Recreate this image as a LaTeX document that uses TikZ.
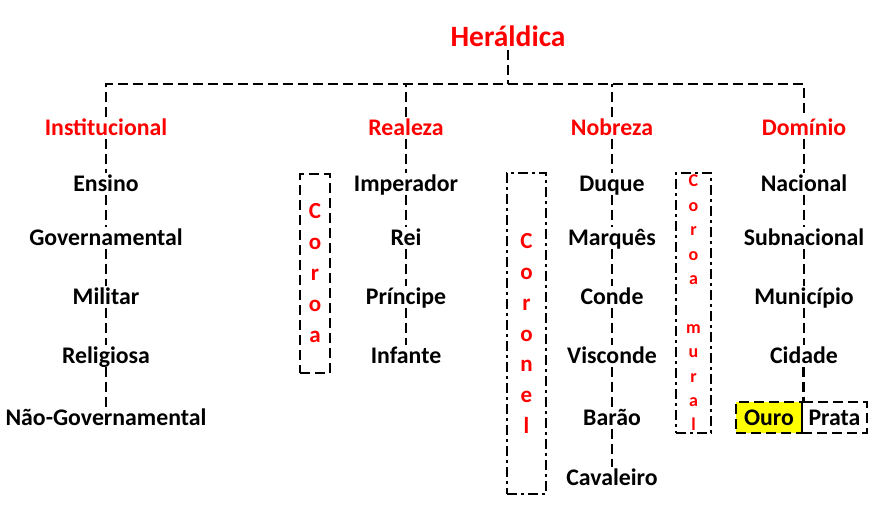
\documentclass[tikz,border=0pt]{standalone}
\usepackage{fontspec}
\setmainfont{Carlito}
\usetikzlibrary{positioning,calc}
\definecolor{titlered}{HTML}{FF0000}
\definecolor{goldfill}{HTML}{FFFF00}
\tikzset{
  dashline/.style={line width=2.6pt, dash pattern=on 10pt off 5pt},
  dotline/.style={line width=2.6pt, dash pattern=on 10pt off 4pt on 3pt off 4pt},
}
\begin{document}
\begin{tikzpicture}[x=1pt, y=-1pt,
  item/.style={font=\bfseries\fontsize{23.8}{27}\selectfont, inner sep=3pt,
               text height=15pt, text depth=0pt},
  cat/.style={item, text=titlered},
  title/.style={font=\bfseries\fontsize{29.5}{34}\selectfont, text=titlered,
                inner sep=3pt, text height=19pt, text depth=0pt},
  crownbox/.style={align=center, text=titlered, inner sep=0pt},
  metal/.style={item, draw, dashline, minimum height=31pt, inner sep=4pt},
]
\useasboundingbox (0,0) rectangle (883,525);

% --- Title and main branches ---
\node[title] (her) at (508,37) {Heráldica};
\coordinate (bus) at (508,84);

\node[cat] (inst) at (106,128) {Institucional};
\node[cat] (real) at (406,128) {Realeza};
\node[cat] (nobr) at (612,128) {Nobreza};
\node[cat] (domi) at (804,128) {Domínio};

\draw[dashline] (her.south) -- (bus);
\draw[dashline] (inst.north) -- (inst.north |- bus) -- (domi.north |- bus) -- (domi.north);
\draw[dashline] (real.north) -- (real.north |- bus);
\draw[dashline] (nobr.north) -- (nobr.north |- bus);

% --- Institucional ---
\node[item] (ens) at (106,184) {Ensino};
\node[item] (gov) at (106,238) {Governamental};
\node[item] (mil) at (106,297) {Militar};
\node[item] (rel) at (106,356) {Religiosa};
\node[item] (ngo) at (106,418) {Não-Governamental};

% --- Realeza ---
\node[item] (imp) at (406,184) {Imperador};
\node[item] (rei) at (406,238) {Rei};
\node[item] (pri) at (406,297) {Príncipe};
\node[item] (inf) at (406,356) {Infante};

% --- Nobreza ---
\node[item] (duq) at (612,184) {Duque};
\node[item] (mar) at (612,238) {Marquês};
\node[item] (con) at (612,297) {Conde};
\node[item] (vis) at (612,356) {Visconde};
\node[item] (bar) at (612,418) {Barão};
\node[item] (cav) at (612,478) {Cavaleiro};

% --- Domínio ---
\node[item] (nac) at (804,184) {Nacional};
\node[item] (sub) at (804,238) {Subnacional};
\node[item] (mun) at (804,297) {Município};
\node[item] (cid) at (804,356) {Cidade};
\node[metal, fill=goldfill, minimum width=66pt] (ouro) at (769,417.5) {Ouro};
\node[metal, minimum width=65pt] (prata) at (834.5,417.5) {Prata};

% chains inside each column
\foreach \a/\b in {inst/ens, ens/gov, gov/mil, mil/rel, rel/ngo,
                   real/imp, imp/rei, rei/pri, pri/inf,
                   nobr/duq, duq/mar, mar/con, con/vis, vis/bar, bar/cav,
                   domi/nac, nac/sub, sub/mun, mun/cid}
  \draw[dashline] (\a.south) -- (\b.north);
\draw[dashline] (cid.south -| ouro.east) -- (ouro.north east);

% --- Crown boxes ---
\node[crownbox, draw, dashline, minimum width=30pt, minimum height=199pt,
      font=\bfseries\fontsize{23}{31}\selectfont] (coroa) at (315,273.5)
      {C\\o\\r\\o\\a};
\node[crownbox, draw, dotline, minimum width=39pt, minimum height=321pt,
      font=\bfseries\fontsize{23}{30.7}\selectfont] (coronel) at (526.5,333.5)
      {C\\o\\r\\o\\n\\e\\l};
\node[crownbox, draw, dotline, minimum width=35pt, minimum height=260pt,
      font=\bfseries\fontsize{18}{24.4}\selectfont] (mural) at (693.5,303)
      {C\\o\\r\\o\\a\\[24.4pt]m\\u\\r\\a\\l};
\end{tikzpicture}
\end{document}
